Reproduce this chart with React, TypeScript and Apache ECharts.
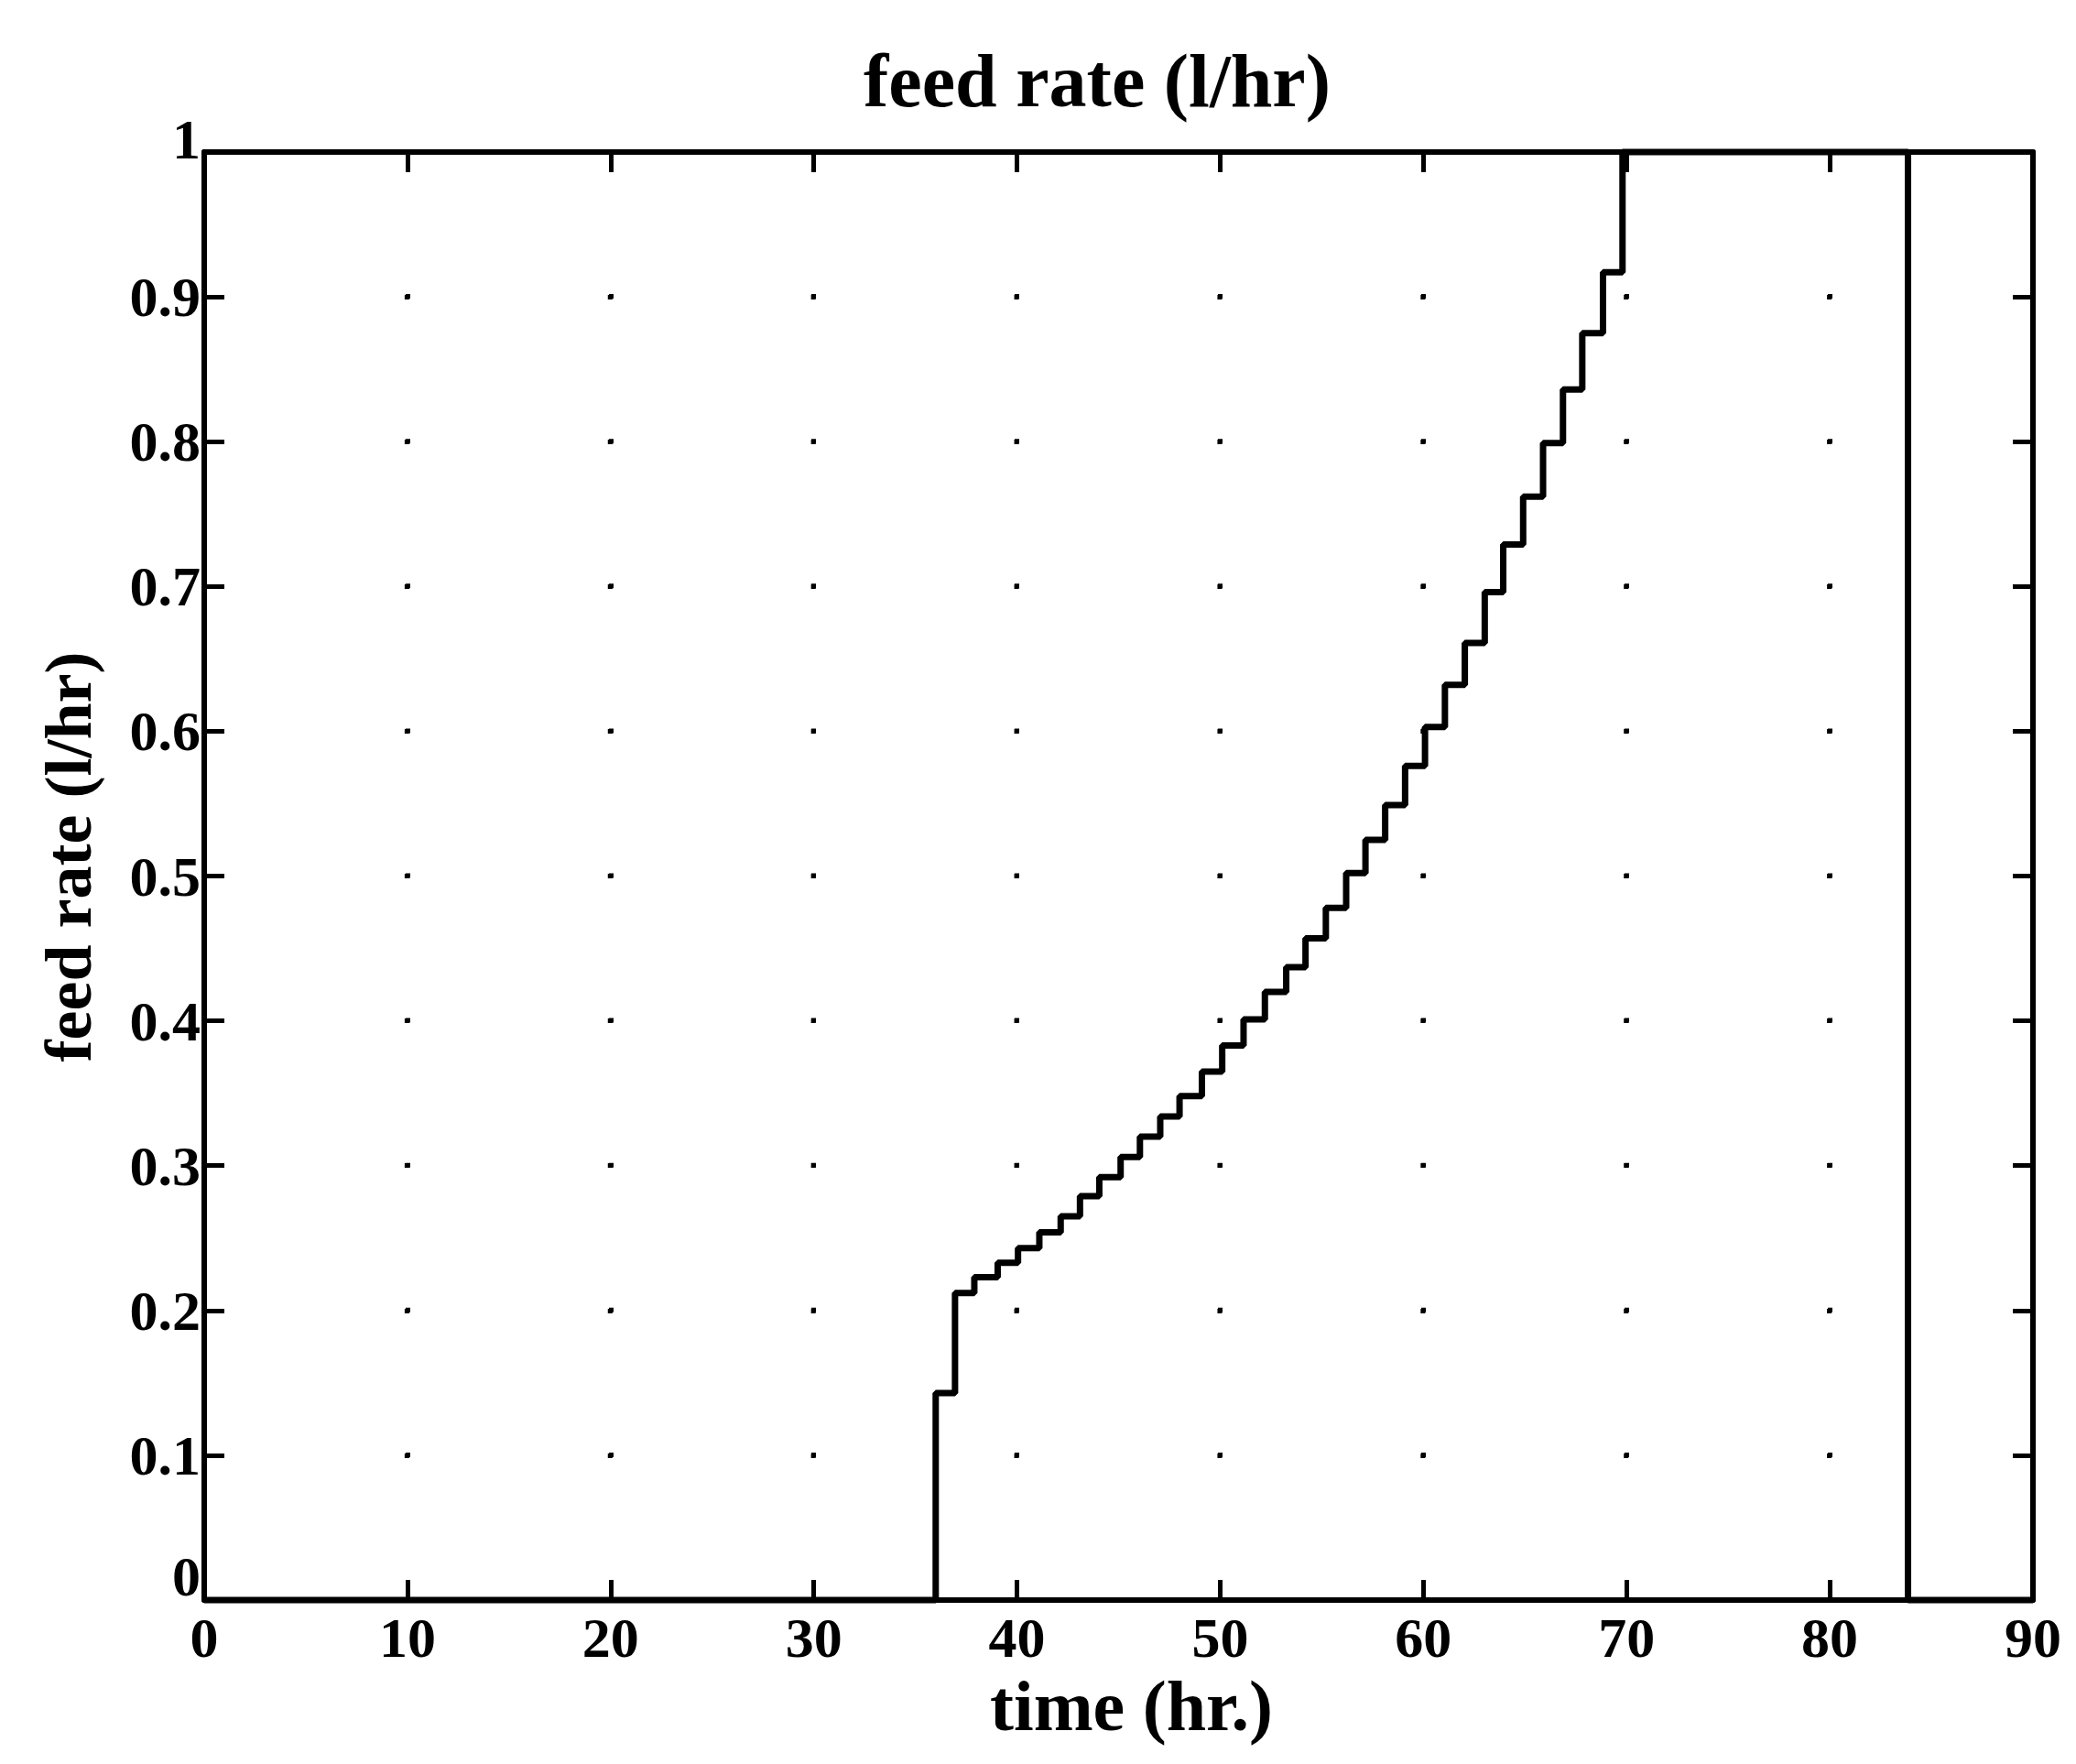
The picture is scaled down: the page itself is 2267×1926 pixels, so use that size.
import React, { useEffect, useRef } from "react";
import * as echarts from "echarts";

// ---- data ----
const titleText = "feed rate (l/hr)";
const xAxisName = "time (hr.)";
const yAxisName = "feed rate (l/hr)";

const xTicks = [0, 10, 20, 30, 40, 50, 60, 70, 80, 90];
const yTicks = [0, 0.1, 0.2, 0.3, 0.4, 0.5, 0.6, 0.7, 0.8, 0.9, 1];

// time at which each level starts (hr)
const stepTimes = [
  0, 36.0, 36.95, 37.9, 39.05, 40.05, 41.1, 42.15, 43.1, 44.05, 45.1, 46.05,
  47.05, 48.0, 49.1, 50.1, 51.15, 52.2, 53.25, 54.2, 55.2, 56.2, 57.15, 58.12,
  59.1, 60.08, 61.06, 62.04, 63.02, 63.93, 64.91, 65.89, 66.87, 67.82, 68.84,
  69.8, 83.85, 90,
];
// feed rate level held from that time (l/hr)
const feedRates = [
  0, 0.143, 0.212, 0.223, 0.233, 0.243, 0.254, 0.265, 0.279, 0.292, 0.306,
  0.32, 0.334, 0.348, 0.365, 0.383, 0.401, 0.42, 0.437, 0.457, 0.478, 0.502,
  0.525, 0.549, 0.576, 0.603, 0.632, 0.661, 0.696, 0.729, 0.762, 0.799, 0.836,
  0.875, 0.917, 1.0, 0, 0,
];

// ---- layout ----
const W = 2267;
const H = 1926;
const GRID = { left: 223, top: 166, width: 1997, height: 1581 };
const FONT = "'Liberation Serif', 'Times New Roman', serif";

export default function App() {
  const ref = useRef<HTMLDivElement>(null);

  useEffect(() => {
    if (!ref.current) return;
    const chart = echarts.init(ref.current, undefined, { renderer: "svg" });

    const xMin = xTicks[0];
    const xMax = xTicks[xTicks.length - 1];
    const xInt = xTicks[1] - xTicks[0];
    const yMin = yTicks[0];
    const yMax = yTicks[yTicks.length - 1];
    const yInt = Math.round((yTicks[1] - yTicks[0]) * 10) / 10;

    const yGap = GRID.height / ((yMax - yMin) / yInt);
    const xGap = GRID.width / ((xMax - xMin) / xInt);
    const dot = 5;

    const axisLine = { show: true, onZero: false, lineStyle: { color: "#000", width: 6 } };
    const axisTick = {
      show: true,
      inside: true,
      length: 22,
      lineStyle: { color: "#000", width: 5 },
    };
    const labelStyle = {
      color: "#000",
      fontFamily: FONT,
      fontWeight: "bold" as const,
      fontSize: 62,
    };

    const data = stepTimes.map((t, i) => [t, feedRates[i]]);

    chart.setOption({
      animation: false,
      backgroundColor: "#fff",
      title: {
        text: titleText,
        left: 1193,
        top: 42,
        textAlign: "center",
        textStyle: {
          color: "#000",
          fontFamily: FONT,
          fontWeight: "bold",
          fontSize: 82,
        },
      },
      grid: { ...GRID, containLabel: false },
      xAxis: [
        {
          type: "value",
          min: xMin,
          max: xMax,
          interval: xInt,
          position: "bottom",
          axisLine,
          axisTick,
          axisLabel: { ...labelStyle, margin: 10 },
          splitLine: {
            show: true,
            lineStyle: {
              color: "#000",
              width: 5,
              type: [dot, yGap - dot],
              dashOffset: dot / 2,
            },
          },
          name: xAxisName,
          nameLocation: "middle",
          nameGap: 70,
          nameTextStyle: { ...labelStyle, fontSize: 78, padding: [0, 0, 0, 28] },
        },
        {
          type: "value",
          min: xMin,
          max: xMax,
          interval: xInt,
          position: "top",
          axisLine,
          axisTick,
          axisLabel: { show: false },
          splitLine: { show: false },
        },
      ],
      yAxis: [
        {
          type: "value",
          min: yMin,
          max: yMax,
          interval: yInt,
          position: "left",
          axisLine,
          axisTick,
          axisLabel: {
            ...labelStyle,
            margin: 4,
            formatter: (v: number) => {
              const s = String(Math.round(v * 10) / 10);
              if (v === yMin) return "{lo|" + s + "}";
              if (v === yMax) return "{hi|" + s + "}";
              return s;
            },
            rich: {
              lo: { ...labelStyle, padding: [0, 0, 52, 0] },
              hi: { ...labelStyle, padding: [0, 0, 28, 0] },
            },
          },
          splitLine: {
            show: true,
            lineStyle: {
              color: "#000",
              width: 5,
              type: [dot, xGap - dot],
              dashOffset: dot / 2,
            },
          },
          name: yAxisName,
          nameLocation: "middle",
          nameGap: 112,
          nameTextStyle: {
            ...labelStyle,
            fontSize: 72,
            padding: [0, 0, 0, 42],
          },
        },
        {
          type: "value",
          min: yMin,
          max: yMax,
          interval: yInt,
          position: "right",
          axisLine,
          axisTick,
          axisLabel: { show: false },
          splitLine: { show: false },
        },
      ],
      series: [
        {
          type: "line",
          name: "feed rate",
          xAxisIndex: 0,
          yAxisIndex: 0,
          step: "end",
          data,
          showSymbol: false,
          symbol: "none",
          clip: false,
          lineStyle: { color: "#000", width: 7 },
        },
      ],
    });

    return () => chart.dispose();
  }, []);

  return (
    <div
      ref={ref}
      style={{ position: "absolute", left: 0, top: 0, width: W, height: H, background: "#fff" }}
    />
  );
}
